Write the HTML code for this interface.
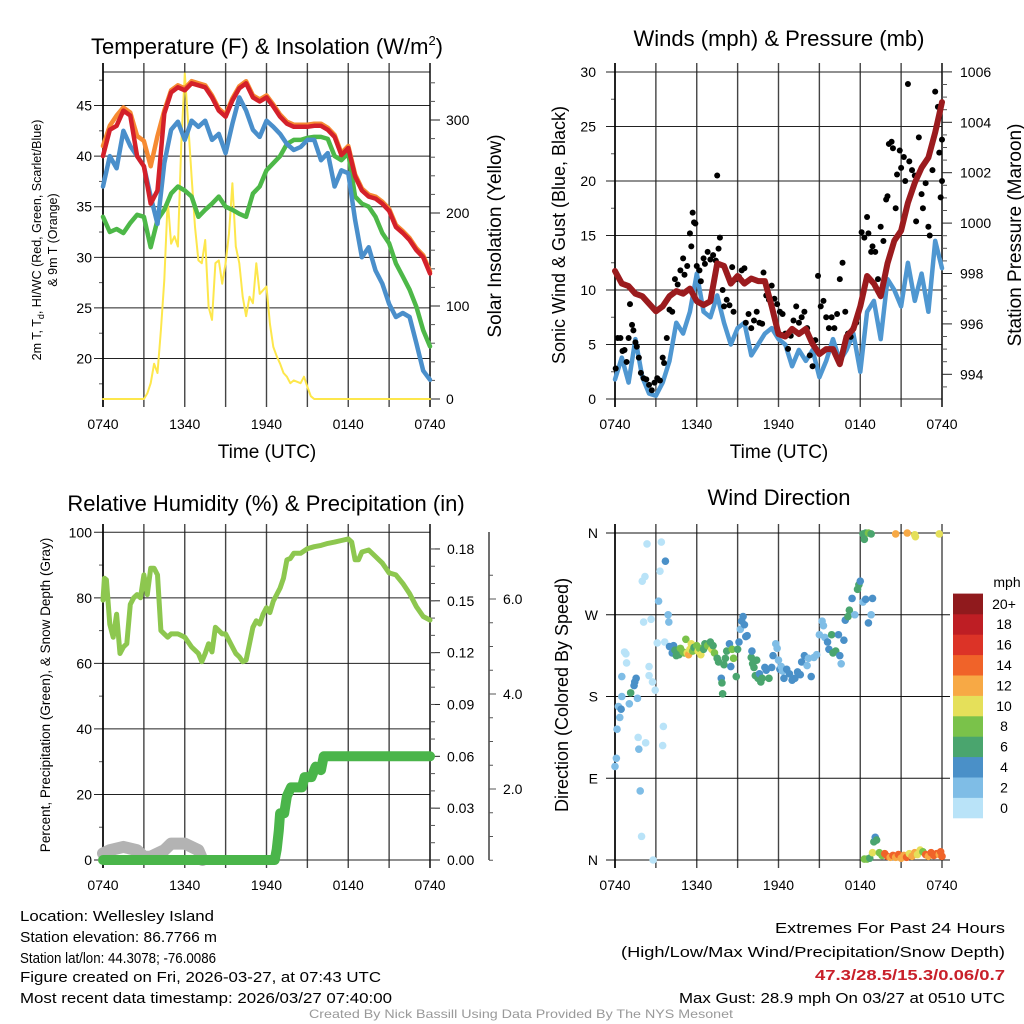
<!DOCTYPE html>
<html><head><meta charset="utf-8">
<style>
html,body{margin:0;padding:0;background:#fff;}
svg{display:block;font-family:"Liberation Sans",Arial,sans-serif;}
</style></head>
<body>
<svg id="s" width="1024" height="1024" viewBox="0 0 1024 1024"></svg>
<script>
// ---------- DATA ----------
const halfHours = [0,0.5,1,1.5,2,2.5,3,3.5,4,4.5,5,5.5,6,6.5,7,7.5,8,8.5,9,9.5,10,10.5,11,11.5,12,12.5,13,13.5,14,14.5,15,15.5,16,16.5,17,17.5,18,18.5,19,19.5,20,20.5,21,21.5,22,22.5,23,23.5,24];
const temp2m = [40,42.6,43,44.5,44,40,39,35.3,36.6,44.2,46.3,46.8,46.5,47.2,47,46.8,45.8,44.5,43.9,45.5,46.7,47.2,45.8,45.4,45.8,44.9,43.9,43.2,42.9,42.9,42.9,43,43,42.6,41.9,40.1,40.8,38,36.6,36,35.8,35.3,34.6,33,32.4,31.7,30.7,30,28.4];
const temp9m = [41,43,44,44.8,44.3,42,41.5,39,42,44.5,46.5,47,46.7,47.4,47.2,47,46,44.7,44.1,45.7,46.9,47.4,46,45.6,46,45.1,44.1,43.4,43.1,43.1,43.1,43.2,43.2,42.8,42.1,40.3,41,38.2,36.8,36.2,36,35.5,34.8,33.2,32.6,31.9,30.9,30.2,28.6];
const windChill = [37,40,38.8,42.5,41,40,39,36,33.3,39.3,42.6,43.4,41.6,43.5,42.9,43.5,41.6,42.2,40.3,43.2,45.8,44.5,42.6,41.9,43.5,42.9,42.2,41.2,40.6,40.9,41.6,41.6,39.6,40.3,37,38.6,38.3,33.7,30,31,28.7,27.4,25.4,24.1,24.5,24.1,21.5,18.8,17.9];
const dewPoint = [34,32.5,32.8,32.4,33.4,34.2,34,31,33.7,34.7,36.3,37,36.6,36,34,34.7,35.3,36,35,34.7,34.3,34,36.3,37,38.6,39.3,40,41.2,41.6,41.6,41.8,41.9,41.9,41.7,40,39.6,40.3,36,35.3,35,34,32.4,31.4,29.4,28.1,26.8,25.1,22.8,21.2];
const solarHours = [0,3,3.25,3.5,3.75,4,4.25,4.5,4.75,5,5.25,5.5,5.75,6,6.25,6.5,6.75,7,7.25,7.5,7.75,8,8.25,8.5,8.75,9,9.25,9.5,9.75,10,10.25,10.5,10.75,11,11.25,11.5,11.75,12,12.25,12.5,12.75,13,13.25,13.5,13.75,14,14.5,14.75,15,15.25,15.5,24];
const solarValues = [0,0,6,17,38,28,74,128,214,167,175,164,275,350,296,239,185,149,146,171,99,85,146,149,124,146,178,232,164,146,110,89,110,103,146,113,117,121,81,56,46,38,28,24,17,20,17,24,13,3,0,0];
const windSpeed = [1.8,3.8,1.5,5.5,2,0.5,0.3,1.5,3.5,7,6,8,11.5,8,7.5,9.5,7,5,6.5,7,4,5,6,6.5,5.5,5,3,4.5,3.5,4.5,2,3.5,5.5,3.5,4.5,6,2.5,8,9,5.5,11,10,8.5,12.5,9,11.5,8,14.5,12];
const pressure = [998.1,997.6,997.5,997.2,997.1,996.8,996.5,996.7,997.1,997.3,997.2,997.4,996.9,996.75,996.9,998.4,998.3,997.6,997.9,997.6,997.8,997.7,997.7,996.7,995.6,995.5,995.8,995.6,995.8,995.2,994.8,995,995,994.4,995.5,995.8,996.7,997.9,997.6,997.1,998.4,999.3,999.7,1000.8,1001.6,1002.2,1002.6,1003.6,1004.8];
const gustHours = [0.05,0.2,0.4,0.55,0.7,0.85,1.0,1.1,1.25,1.35,1.5,1.6,1.75,1.9,2.1,2.3,2.5,2.7,2.9,3.1,3.3,3.5,3.6,3.8,4.0,4.2,4.4,4.6,4.8,5.0,5.1,5.3,5.5,5.6,5.7,5.8,5.9,6.0,6.2,6.3,6.5,6.6,6.8,7.0,7.2,7.4,7.5,7.6,7.7,7.9,8.0,8.2,8.4,8.6,8.7,8.9,9.1,9.3,9.5,9.6,9.8,10.0,10.2,10.4,10.6,10.8,10.9,11.1,11.3,11.5,11.7,11.9,12.1,12.3,12.5,12.7,12.9,13.1,13.3,13.5,13.7,13.9,14.1,14.3,14.5,14.7,14.9,15.1,15.3,15.5,15.7,15.9,16.1,16.3,16.5,16.7,16.9,17.1,17.3,17.5,17.7,18.1,18.3,18.5,18.6,18.8,18.9,19.1,19.3,19.5,19.7,19.9,20.0,20.1,20.3,20.4,20.6,20.7,20.9,21.0,21.2,21.3,21.5,21.6,21.8,22.0,22.1,22.3,22.5,22.6,22.8,23.0,23.1,23.3,23.5,23.6,23.7,23.8,23.9,24.0,24.0];
const gustValues = [2.8,5.6,5.6,4.4,4.5,3.4,5.6,8.7,6.8,6.3,5.2,4.8,3.8,2.4,1.9,1.8,1.3,0.8,1.5,1.9,1.7,3.8,3.3,5.6,8.2,8.0,11.0,10.5,11.8,12.9,11.4,12.2,15.2,14.0,17.1,16.2,16.1,12.2,11.8,10.8,12.9,12.4,13.5,12.8,13.2,12.7,20.5,13.8,14.8,10.0,8.5,9.1,8.6,12.1,8.0,11.0,11.2,11.8,12.0,7.0,7.8,6.5,7.2,8.0,7.0,6.9,11.6,9.5,9.1,10.4,9.2,8.7,8.0,7.8,6.0,4.6,5.8,7.2,8.5,7.0,7.5,8.0,6.5,4.0,3.0,5.4,11.3,8.5,9.0,7.5,6.5,7.5,6.5,7.8,11.0,12.5,8.0,6.0,5.7,6.5,7.0,15.3,14.8,16.7,15.2,13.5,14.0,13.5,11.0,15.8,14.5,18.3,18.6,23.4,23.6,23.0,17.5,20.6,22.8,21.2,22.2,20.0,28.9,21.8,21.0,20.5,16.3,24.0,18.8,17.5,19.8,15.8,15.0,21.0,28.2,25.0,26.8,22.6,18.5,20.0,23.8];
const rhHours = [0,0.1,0.25,0.5,0.75,1,1.25,1.5,1.75,2,2.25,2.5,2.75,3,3.25,3.5,3.75,4,4.25,4.5,4.75,5,5.5,5.75,6,6.5,7,7.25,7.5,7.75,8,8.25,8.5,8.75,9,9.5,9.75,10,10.25,10.5,10.75,11,11.25,11.5,11.75,12,12.25,12.5,12.75,13,13.25,13.5,13.75,14,14.5,15,15.5,16,16.5,17,17.5,18,18.25,18.5,18.75,19,19.5,20,20.5,21,21.5,22,22.5,23,23.5,24];
const rhValues = [79.3,86,85.5,71.9,68,75,63,65,66,78,80,81,80,87,81,89,89,87,70,69,68,69,69,68.5,68,65,63,60.5,63,66,63.5,71,70,69,69,65,63,62,60.5,61,66,71,73,72,75,77,75.5,79,81,83,86,91.6,92,93.6,93.6,95,95.6,96,96.6,97,97.5,98,97,91.6,91.6,94,94.6,92.6,90.6,87.6,87,84.4,81.3,77.3,74.3,73.2];
const precipHours = [0,12.6,12.75,12.9,13.0,13.3,13.5,13.8,14.2,14.6,14.8,15.3,15.6,16.0,16.2,24];
const precipValues = [0,0,0.006,0.017,0.027,0.027,0.037,0.042,0.042,0.042,0.048,0.048,0.054,0.052,0.06,0.06];
const snowHours = [0,0.5,1.5,2.5,3.0,3.5,4.5,5.0,6.0,7.0,7.3];
const snowValues = [2,3,4,3,1,1,3,5,5,3,0];
const dirHours = [0,0.1,0.15,0.25,0.35,0.45,0.5,0.7,0.8,0.85,0.5,1.05,1.15,1.4,1.45,1.55,1.65,1.7,1.75,1.85,1.95,2.0,2.2,2.25,2.35,2.5,2.5,2.1,2.65,2.75,2.95,2.8,3.1,3.2,3.3,3.4,3.5,3.55,3.7,3.9,3.95,3.65,4.0,4.2,4.3,4.4,4.5,4.6,4.7,4.8,5.0,5.1,5.2,5.3,5.4,5.5,5.6,5.7,5.8,6.0,6.1,6.2,6.3,6.5,6.6,6.8,7.0,7.1,7.2,7.3,7.5,7.6,7.8,7.85,7.9,8.0,8.1,8.2,8.4,8.5,8.6,8.7,8.9,9.0,9.1,9.2,9.3,9.4,9.5,9.6,9.7,10.0,10.05,10.1,10.2,10.3,10.4,10.5,10.6,10.7,10.8,11.0,11.1,11.3,11.5,11.6,11.8,11.9,12.0,12.1,12.2,12.3,12.4,12.6,12.8,13.0,13.2,13.4,13.6,13.7,13.9,14.1,14.2,14.4,14.6,14.8,15.0,15.2,15.3,15.4,15.6,15.7,15.9,16.0,16.2,16.4,16.5,16.6,16.8,16.9,17.1,17.2,17.4,17.6,17.8,17.9,18.0,18.2,18.4,18.6,18.8,18.9,18.2,18.4,18.6,18.8,18.3,20.6,21.45,22.0,22.05,23.8,18.3,18.5,18.7,18.9,19.0,19.1,19.2,19.4,19.6,19.8,20.0,20.2,20.4,20.6,20.8,21.0,21.2,21.4,21.6,21.8,22.0,22.2,22.4,22.6,22.8,23.0,23.2,23.4,23.6,23.8,24.0,23.9];
const dirValues = [103,112,144,169,157,166,180,229,227,217,202,172,184,192,196,200,178,135,122,76,26,307,312,129,348,213,203,262,265,196,187,0,239,285,318,350,126,147,329,270,262,240,235,228,236,231,225,231,226,233,229,228,243,228,226,232,238,230,234,236,230,233,226,232,238,236,240,232,236,228,222,218,200,195,183,215,222,230,238,213,232,222,202,232,240,254,263,268,259,246,247,223,230,216,212,203,220,200,205,196,200,212,209,200,212,225,238,233,220,210,213,208,200,210,205,198,200,207,204,218,225,214,222,202,223,226,248,263,258,245,240,232,248,228,230,248,225,216,242,264,268,275,288,270,298,303,307,284,287,261,270,288,359,360,360,359,353,359,360,358,356,359,1,1,2,8,20,25,22,8,5,7,4,3,5,3,6,2,5,3,7,4,8,6,11,9,6,4,8,5,7,6,4,9];
const dirSpeeds = [3,3,3,3,3,4,3,1,1,1,3,3,6,4,4,4,3,1,3,3,1,1,1,1,1,1,1,1,1,1,1,1,1,3,1,1,1,1,4,3,3,1,4,5,4,6,6,7,7,8,8,8,8,10,12,10,10,8,7,8,10,8,10,7,6,8,6,10,7,8,6,6,4,6,6,6,6,6,4,4,8,8,6,6,4,3,4,4,4,4,4,6,4,6,6,6,6,6,4,6,6,4,4,6,4,4,2,2,2,4,2,3,4,4,4,4,4,4,4,4,4,2,2,4,3,3,3,2,2,2,4,4,6,6,6,4,4,2,4,4,6,6,4,2,6,6,4,3,4,4,2,4,7,7,8,7,6,12,13,10,10,10,8,8,7,10,6,4,6,8,9,15,14,12,14,13,14,13,12,14,10,13,12,11,10,8,14,13,14,15,14,12,14,15];
const tempTicks = [20,25,30,35,40,45];
const solarTicks = [0,100,200,300];
const windTicks = [0,5,10,15,20,25,30];
const pressTicks = [994,996,998,1000,1002,1004,1006];
const rhTicks = [0,20,40,60,80,100];
const precipTicks = [0,0.03,0.06,0.09,0.12,0.15,0.18];
const snowTicks = [2,4,6];
const dirTicks = [0,90,180,270,360];
const dirLabels = ['N','E','S','W','N'];
const timeLabels = ['0740','1340','1940','0140','0740'];
const cbLabels = ['0','2','4','6','8','10','12','14','16','18','20+'];
const cbColors = ['#b9e3f8','#7fbde6','#4a90c8','#4aa56e','#7ac24a','#e5e05a','#f7a945','#f06329','#dc3327','#be1e24','#901a1d'];

// ---------- HELPERS ----------
const S = document.getElementById('s');
const NS = 'http://www.w3.org/2000/svg';
function mk(tag, attrs, parent, txt){
  const e = document.createElementNS(NS, tag);
  for (const k in attrs) e.setAttribute(k, attrs[k]);
  if (txt !== undefined) e.textContent = txt;
  (parent || S).appendChild(e);
  return e;
}
function grp(name){
  const g = mk('g', {});
  
  
  return g;
}
function xsFor(x0, x1){ return h => x0 + h / 24 * (x1 - x0); }
function linePath(xs, ys, X, Y){
  let d = '';
  for (let i = 0; i < xs.length; i++) d += (i ? 'L' : 'M') + X(xs[i]).toFixed(1) + ',' + Y(ys[i]).toFixed(1);
  return d;
}
function series(g, name, xs, ys, X, Y, color, w){
  const p = mk('path', {d: linePath(xs, ys, X, Y), fill: 'none', stroke: color, 'stroke-width': w, 'stroke-linejoin': 'round', 'stroke-linecap': 'round'}, g);
  
  
  return p;
}
function vgrid(g, X, top, bot, tickTop){
  for (let h = 0; h <= 24; h += 3) {
    const x = X(h);
    mk('line', {x1: x, y1: tickTop, x2: x, y2: bot + 8, stroke: '#444', 'stroke-width': 1.4}, g);
  }
}
function timeAxis(g, X, y){
  for (let i = 0; i < timeLabels.length; i++) {
    const t = mk('text', {x: X(i * 6), y: y, 'font-size': 14, 'text-anchor': 'middle'}, g, timeLabels[i]);
    
    
  }
}
function rotText(g, name, x, y, size, txt){
  const t = mk('text', {x: 0, y: 0, 'font-size': size, 'text-anchor': 'middle', transform: `translate(${x},${y}) rotate(-90)`}, g, txt);
  
  
  return t;
}

// ---------- PANEL 1: Temperature ----------
(function(){
  const g = grp('temperature-panel');
  const X = xsFor(103, 430);
  const Y = v => 399 - (v - 16) * 10.12;
  const YS = w => 399 - w * 0.93;
  vgrid(g, X, 72, 399, 63);
  for (const v of tempTicks) {
    mk('line', {x1: 94, y1: Y(v), x2: 430, y2: Y(v), stroke: '#222', 'stroke-width': 1}, g);
    const t = mk('text', {x: 92, y: Y(v) + 5, 'font-size': 14, 'text-anchor': 'end'}, g, String(v));
     
  }
  for (let v = 17.5; v < 48.3; v += 5) mk('line', {x1: 99, y1: Y(v), x2: 103, y2: Y(v), stroke: '#555'}, g);
  mk('line', {x1: 103, y1: 72, x2: 430, y2: 72, stroke: '#222'}, g);
  mk('line', {x1: 103, y1: 63, x2: 103, y2: 407, stroke: '#000', 'stroke-width': 1.6}, g);
  mk('line', {x1: 430, y1: 63, x2: 430, y2: 407, stroke: '#000', 'stroke-width': 1.2}, g);
  for (const w of solarTicks) {
    mk('line', {x1: 430, y1: YS(w), x2: 440, y2: YS(w), stroke: '#222'}, g);
    const t = mk('text', {x: 446, y: YS(w) + 5, 'font-size': 14}, g, String(w));
     
  }
  for (let w = 20; w < 350; w += 20) if (w % 100) mk('line', {x1: 430, y1: YS(w), x2: 435, y2: YS(w), stroke: '#555'}, g);
  series(g, 'solar-insolation-line', solarHours, solarValues, X, YS, '#fde74c', 2);
  series(g, 'dew-point-line', halfHours, dewPoint, X, Y, '#4db848', 4.5);
  series(g, 'temp-9m-line', halfHours, temp9m, X, Y, '#f68a32', 4.5);
  series(g, 'wind-chill-line', halfHours, windChill, X, Y, '#4a8fcb', 4.5);
  series(g, 'temp-2m-line', halfHours, temp2m, X, Y, '#d4202a', 4.5);
  const tt = mk('text', {x: 267, y: 54, 'font-size': 22, 'text-anchor': 'middle'}, g);
   
  tt.innerHTML = 'Temperature (F) &amp; Insolation (W/m<tspan dy="-9" font-size="13">2</tspan><tspan dy="9">)</tspan>';
  timeAxis(g, X, 429);
  const xt = mk('text', {x: 267, y: 458, 'font-size': 19, 'text-anchor': 'middle'}, g, 'Time (UTC)');
   
  const yt = mk('text', {x: 0, y: 0, 'font-size': 12.5, 'text-anchor': 'middle', transform: 'translate(41,240) rotate(-90)'}, g);
   
  yt.innerHTML = '2m T, T<tspan dy="3" font-size="9">d</tspan><tspan dy="-3">, HI/WC (Red, Green, Scarlet/Blue)</tspan>';
  rotText(g, 'temp-y-axis-title-line2', 57, 240, 12.5, '& 9m T (Orange)');
  rotText(g, 'solar-axis-title', 501, 236, 19, 'Solar Insolation (Yellow)');
})();

// ---------- PANEL 2: Winds ----------
(function(){
  const g = grp('winds-panel');
  const X = xsFor(615, 942);
  const Y = v => 399 - v * 10.9;
  const YP = p => 374.3 - (p - 994) * 25.2;
  vgrid(g, X, 72, 399, 63);
  for (const v of windTicks) {
    mk('line', {x1: 606, y1: Y(v), x2: 942, y2: Y(v), stroke: '#222'}, g);
    const t = mk('text', {x: 596, y: Y(v) + 5, 'font-size': 14, 'text-anchor': 'end'}, g, String(v));
     
  }
  for (let v = 2.5; v < 30; v += 5) mk('line', {x1: 611, y1: Y(v), x2: 615, y2: Y(v), stroke: '#555'}, g);
  mk('line', {x1: 615, y1: 63, x2: 615, y2: 407, stroke: '#000', 'stroke-width': 1.6}, g);
  mk('line', {x1: 942, y1: 63, x2: 942, y2: 407, stroke: '#000', 'stroke-width': 1.2}, g);
  for (const p of pressTicks) {
    mk('line', {x1: 942, y1: YP(p), x2: 952, y2: YP(p), stroke: '#222'}, g);
    const t = mk('text', {x: 960, y: YP(p) + 5, 'font-size': 14}, g, String(p));
     
  }
  for (let p = 993.5; p < 1006; p += 0.5) if (p % 2) mk('line', {x1: 942, y1: YP(p), x2: 947, y2: YP(p), stroke: '#555'}, g);
  series(g, 'sonic-wind-line', halfHours, windSpeed, X, Y, '#4f97d1', 4.5);
  const gg = mk('g', {}, g);
   
  for (let i = 0; i < gustHours.length; i++) {
    const c = mk('circle', {cx: X(gustHours[i]), cy: Y(gustValues[i]), r: 3, fill: '#000'}, gg);
     
  }
  series(g, 'pressure-line', halfHours, pressure, X, YP, '#9b1b1e', 6);
  const tt = mk('text', {x: 779, y: 46, 'font-size': 22, 'text-anchor': 'middle'}, g, 'Winds (mph) & Pressure (mb)');
   
  timeAxis(g, X, 429);
  const xt = mk('text', {x: 779, y: 458, 'font-size': 19, 'text-anchor': 'middle'}, g, 'Time (UTC)');
   
  rotText(g, 'wind-y-axis-title', 565, 235, 18, 'Sonic Wind & Gust (Blue, Black)');
  rotText(g, 'pressure-axis-title', 1021, 235, 19, 'Station Pressure (Maroon)');
})();

// ---------- PANEL 3: RH & Precip ----------
(function(){
  const g = grp('humidity-panel');
  const X = xsFor(103, 430);
  const Y = v => 860 - v * 3.277;
  const YPr = v => 860 - v * 1728;
  const YSn = v => 884 - v * 47.5;
  vgrid(g, X, 532, 860, 524);
  for (const v of rhTicks) {
    mk('line', {x1: 94, y1: Y(v), x2: 430, y2: Y(v), stroke: '#222'}, g);
    const t = mk('text', {x: 92, y: Y(v) + 5, 'font-size': 14, 'text-anchor': 'end'}, g, String(v));
     
  }
  for (let v = 10; v < 100; v += 20) mk('line', {x1: 99, y1: Y(v), x2: 103, y2: Y(v), stroke: '#555'}, g);
  mk('line', {x1: 103, y1: 524, x2: 103, y2: 868, stroke: '#000', 'stroke-width': 1.6}, g);
  mk('line', {x1: 430, y1: 524, x2: 430, y2: 868, stroke: '#000', 'stroke-width': 1.2}, g);
  for (const v of precipTicks) {
    mk('line', {x1: 430, y1: YPr(v), x2: 440, y2: YPr(v), stroke: '#222'}, g);
    const t = mk('text', {x: 447, y: YPr(v) + 5, 'font-size': 14}, g, v.toFixed(2));
     
  }
  for (let v = 0.01; v < 0.19; v += 0.01) mk('line', {x1: 430, y1: YPr(v), x2: 435, y2: YPr(v), stroke: '#555'}, g);
  mk('line', {x1: 489, y1: 532, x2: 489, y2: 860, stroke: '#333', 'stroke-width': 1.4}, g);
  for (let v = 0.5; v < 7; v += 0.5) mk('line', {x1: 489, y1: YSn(v), x2: v % 2 ? 493 : 496, y2: YSn(v), stroke: '#555'}, g);
  for (const v of snowTicks) {
    const t = mk('text', {x: 503, y: YSn(v) + 5, 'font-size': 14}, g, v.toFixed(1));
     
  }
  series(g, 'snow-depth-line', snowHours, snowValues, X, Y, '#b3b3b3', 12);
  series(g, 'precip-line', precipHours, precipValues, X, YPr, '#4ab54a', 10);
  series(g, 'rh-line', rhHours, rhValues, X, Y, '#8dc74f', 5);
  const tt = mk('text', {x: 266, y: 511, 'font-size': 22, 'text-anchor': 'middle'}, g, 'Relative Humidity (%) & Precipitation (in)');
   
  timeAxis(g, X, 890);
  rotText(g, 'rh-y-axis-title', 50, 695, 13.5, 'Percent, Precipitation (Green), & Snow Depth (Gray)');
})();

// ---------- PANEL 4: Wind Direction ----------
(function(){
  const g = grp('wind-direction-panel');
  const X = xsFor(615, 942);
  const Y = d => 860 - d * 0.9083;
  vgrid(g, X, 524, 860, 524);
  for (let i = 0; i < dirTicks.length; i++) {
    mk('line', {x1: 606, y1: Y(dirTicks[i]), x2: 950, y2: Y(dirTicks[i]), stroke: '#111'}, g);
    const t = mk('text', {x: 598, y: Y(dirTicks[i]) + 5, 'font-size': 14, 'text-anchor': 'end'}, g, dirLabels[i]);
     
  }
  mk('line', {x1: 615, y1: 524, x2: 615, y2: 868, stroke: '#000', 'stroke-width': 1.6}, g);
  const pg = mk('g', {}, g);
   
  for (let i = 0; i < dirHours.length; i++) {
    const k = Math.min(10, Math.floor(dirSpeeds[i] / 2));
    const c = mk('circle', {cx: X(dirHours[i]), cy: Y(dirValues[i]), r: 3.8, fill: cbColors[k]}, pg);
     
  }
  const tt = mk('text', {x: 779, y: 505, 'font-size': 22, 'text-anchor': 'middle'}, g, 'Wind Direction');
   
  timeAxis(g, X, 890);
  rotText(g, 'direction-y-axis-title', 568, 695, 18, 'Direction (Colored By Speed)');
  const cb = mk('g', {}, g);
   
  const bh = 20.4;
  for (let k = 0; k < 11; k++) {
    const y = 818 - (k + 1) * bh;
    const r = mk('rect', {x: 953, y: y, width: 30, height: bh + 0.3, fill: cbColors[k]}, cb);
     
    const t = mk('text', {x: 1004, y: y + bh / 2 + 5, 'font-size': 14, 'text-anchor': 'middle'}, cb, cbLabels[k]);
     
  }
  const mph = mk('text', {x: 1007, y: 587, 'font-size': 14, 'text-anchor': 'middle'}, cb, 'mph');
   
})();

// ---------- FOOTER ----------
(function(){
  const g = grp('footer-info');
  const left = ['Location: Wellesley Island','Station elevation: 86.7766 m','Station lat/lon: 44.3078; -76.0086','Figure created on Fri, 2026-03-27, at 07:43 UTC','Most recent data timestamp: 2026/03/27 07:40:00'];
  const lw = [194, 197, 196, 361, 372];
  const ly = [921, 942, 963, 982, 1003];
  for (let i = 0; i < left.length; i++) {
    const t = mk('text', {x: 20, y: ly[i], 'font-size': 15, textLength: lw[i], lengthAdjust: 'spacingAndGlyphs'}, g, left[i]);
     
  }
  const r1 = mk('text', {x: 1005, y: 933, 'font-size': 15, 'text-anchor': 'end', textLength: 230, lengthAdjust: 'spacingAndGlyphs'}, g, 'Extremes For Past 24 Hours');
   
  const r2 = mk('text', {x: 1005, y: 957, 'font-size': 15, 'text-anchor': 'end', textLength: 384, lengthAdjust: 'spacingAndGlyphs'}, g, '(High/Low/Max Wind/Precipitation/Snow Depth)');
   
  const r3 = mk('text', {x: 1005, y: 980, 'font-size': 15, 'font-weight': 'bold', fill: '#c8202a', 'text-anchor': 'end', textLength: 190, lengthAdjust: 'spacingAndGlyphs'}, g, '47.3/28.5/15.3/0.06/0.7');
   
  const r4 = mk('text', {x: 1005, y: 1003, 'font-size': 15, 'text-anchor': 'end', textLength: 326, lengthAdjust: 'spacingAndGlyphs'}, g, 'Max Gust: 28.9 mph On 03/27 at 0510 UTC');
   
  const c = mk('text', {x: 521, y: 1018, 'font-size': 12, fill: '#999', 'text-anchor': 'middle', textLength: 424, lengthAdjust: 'spacingAndGlyphs'}, g, 'Created By Nick Bassill Using Data Provided By The NYS Mesonet');
   
})();
</script>
</body></html>
